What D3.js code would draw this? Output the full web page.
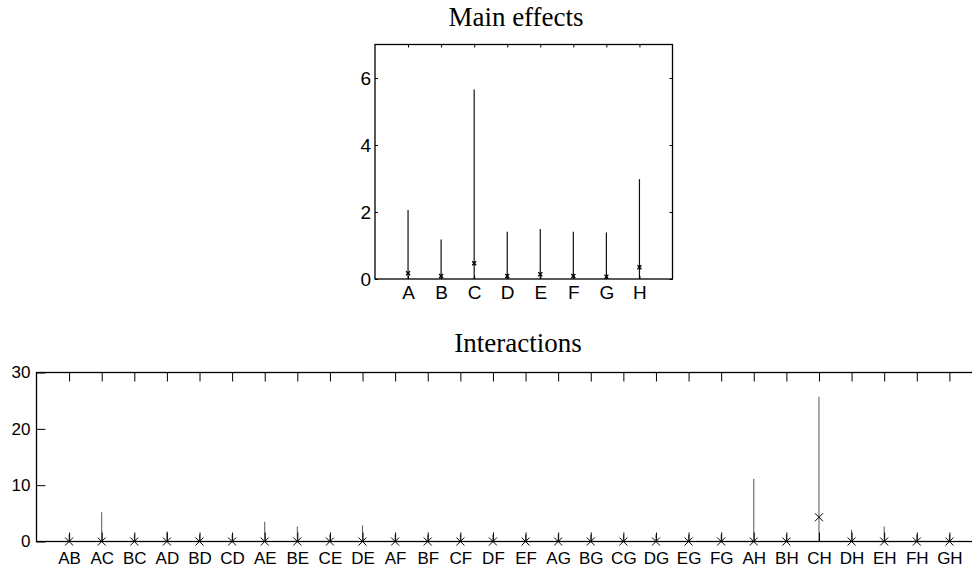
<!DOCTYPE html>
<html>
<head>
<meta charset="utf-8">
<script src="https://cdn.jsdelivr.net/npm/d3@7"></script>
<style>
  body { margin: 0; background: #fff; }
  .tick text { fill: #000; }
</style>
</head>
<body>
<svg class="chart"></svg>
<script>
// data
var mainNames = ["A", "B", "C", "D", "E", "F", "G", "H"];
var mainMax = [2.06, 1.18, 5.66, 1.41, 1.49, 1.41, 1.39, 2.98];
var mainMed = [0.17, 0.09, 0.47, 0.09, 0.14, 0.09, 0.07, 0.35];
var mainTicks = [0, 2, 4, 6];

var interNames = ["AB", "AC", "BC", "AD", "BD", "CD", "AE", "BE", "CE", "DE",
    "AF", "BF", "CF", "DF", "EF", "AG", "BG", "CG", "DG", "EG", "FG",
    "AH", "BH", "CH", "DH", "EH", "FH", "GH"];
var interMax = [1.2, 5.2, 1.2, 1.8, 1.2, 1.2, 3.5, 2.66, 1.2, 2.84,
    1.2, 1.2, 1.2, 1.2, 1.2, 1.2, 1.2, 1.2, 1.2, 1.2, 1.2,
    11.1, 1.2, 25.7, 2.07, 2.66, 1.2, 1.2];
var interMed = [0, 0, 0, 0, 0, 0, 0, 0, 0, 0,
    0, 0, 0, 0, 0, 0, 0, 0, 0, 0, 0,
    0, 0, 4.3, 0, 0, 0, 0];
var interTicks = [0, 10, 20, 30];

function show() {
    'use strict';
    var W = 972, H = 572;

    var svg = d3.select(".chart")
        .attr("width", W)
        .attr("height", H);

    svg.append("rect").attr("width", W).attr("height", H).attr("fill", "#fff");

    // one stem-plot panel: whisker to max, cross at median, MATLAB-like box with inner ticks
    function panel(opt) {
        var x = d3.scaleLinear().domain([0, opt.names.length + 1]).range([opt.left, opt.right]);
        var y = d3.scaleLinear().domain(opt.ydom).range([opt.bottom, opt.top]);
        var g = svg.append("g");
        var idx = d3.range(opt.names.length);

        g.append("g").selectAll("line").data(idx).enter()
            .append("line")
            .attr("x1", function(i) { return x(i + 1); })
            .attr("x2", function(i) { return x(i + 1); })
            .attr("y1", y(0))
            .attr("y2", function(i) { return y(opt.max[i]); })
            .attr("stroke", opt.stem)
            .attr("stroke-width", opt.stemW);

        var m = opt.mark;
        g.append("g").selectAll("path").data(idx).enter()
            .append("path")
            .attr("d", function(i) {
                var cx = x(i + 1), cy = y(opt.med[i]);
                return "M" + (cx - m) + "," + (cy - m) + "L" + (cx + m) + "," + (cy + m) +
                    "M" + (cx - m) + "," + (cy + m) + "L" + (cx + m) + "," + (cy - m);
            })
            .attr("stroke", "#000")
            .attr("stroke-width", opt.markW)
            .attr("fill", "none");

        var fontFam = "Liberation Sans, Arial, sans-serif";

        var xb = g.append("g")
            .attr("transform", "translate(0," + opt.bottom + ")")
            .call(d3.axisBottom(x).tickValues(idx.map(function(i) { return i + 1; }))
                .tickFormat(function(d) { return opt.names[d - 1]; })
                .tickSize(-opt.tick).tickSizeOuter(0).tickPadding(opt.xpad));
        var xt = g.append("g")
            .attr("transform", "translate(0," + opt.top + ")")
            .call(d3.axisTop(x).tickValues(idx.map(function(i) { return i + 1; }))
                .tickFormat("").tickSize(-opt.tick).tickSizeOuter(0));
        var yl = g.append("g")
            .attr("transform", "translate(" + opt.left + ",0)")
            .call(d3.axisLeft(y).tickValues(opt.yticks).tickFormat(d3.format("d"))
                .tickSize(-opt.tick).tickSizeOuter(0).tickPadding(opt.ypad));
        var yr = g.append("g")
            .attr("transform", "translate(" + opt.right + ",0)")
            .call(d3.axisRight(y).tickValues(opt.yticks)
                .tickFormat("").tickSize(-opt.tick).tickSizeOuter(0));

        [xb, xt, yl, yr].forEach(function(a) {
            a.select(".domain").remove();
            a.selectAll(".tick line").attr("stroke", "#000").attr("stroke-width", 1);
            a.selectAll("text").attr("font-family", fontFam).attr("font-size", opt.font);
        });

        g.append("rect")
            .attr("x", opt.left).attr("y", opt.top)
            .attr("width", opt.right - opt.left).attr("height", opt.bottom - opt.top)
            .attr("fill", "none").attr("stroke", "#000").attr("stroke-width", 1.3);

        svg.append("text")
            .attr("x", opt.tx).attr("y", opt.ty)
            .attr("text-anchor", "middle")
            .attr("font-family", "Liberation Serif, Times New Roman, serif")
            .attr("font-size", 27)
            .text(opt.title);
    }

    panel({
        names: mainNames, max: mainMax, med: mainMed, yticks: mainTicks, ydom: [0, 7],
        left: 375, right: 672.5, top: 44.5, bottom: 279,
        tick: 3, xpad: 7, ypad: 4, font: 19, stem: "#111", stemW: 1.2, mark: 2, markW: 1.3,
        title: "Main effects", tx: 516, ty: 26
    });

    panel({
        names: interNames, max: interMax, med: interMed, yticks: interTicks, ydom: [0, 30],
        left: 36.5, right: 982, top: 372.5, bottom: 541.5,
        tick: 9, xpad: 10, ypad: 6, font: 17, stem: "#555", stemW: 1, mark: 4, markW: 1,
        title: "Interactions", tx: 518, ty: 352
    });
}

show();
</script>
</body>
</html>
